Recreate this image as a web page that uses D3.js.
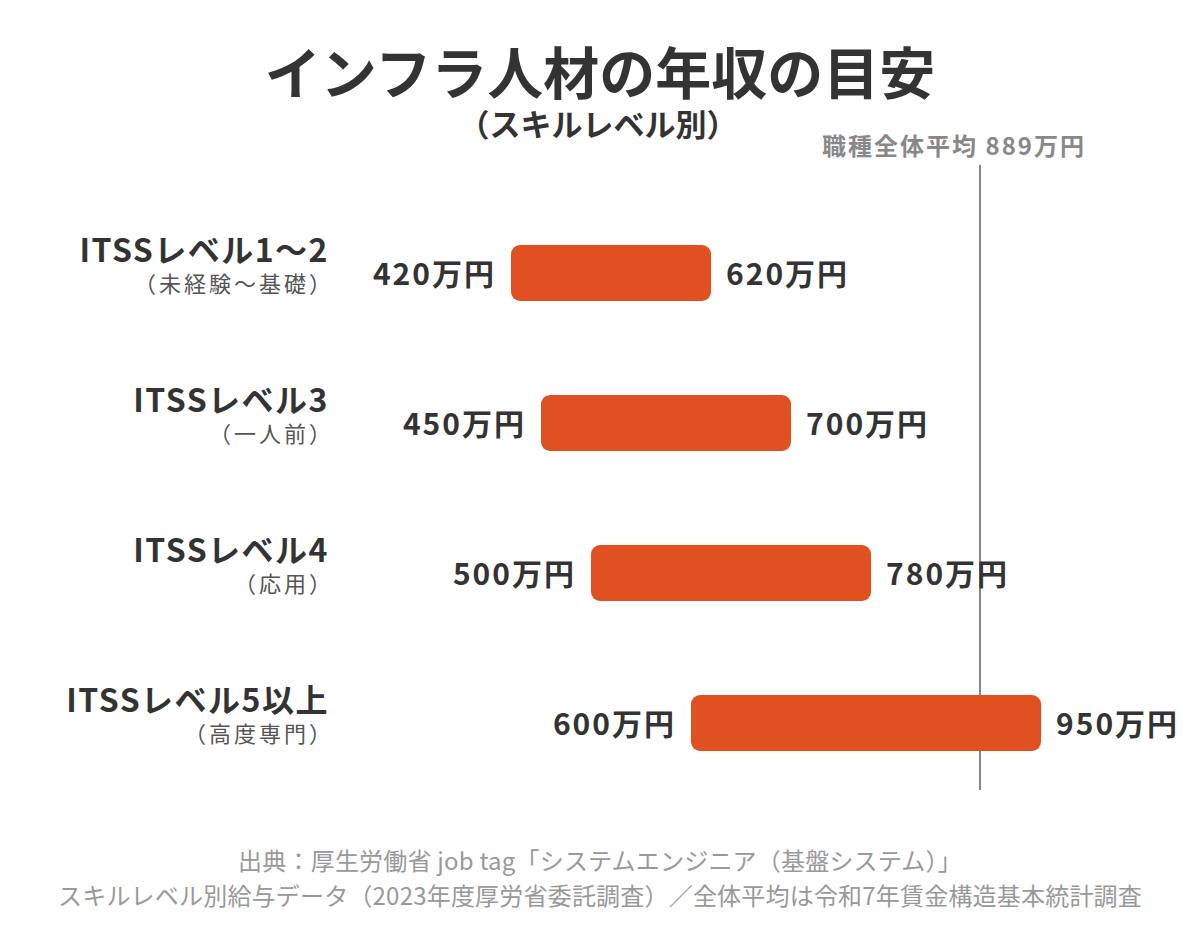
<!DOCTYPE html>
<meta charset="utf-8">
<title>インフラ人材の年収の目安</title>
<script src="https://d3js.org/d3.v7.min.js"></script>
<style>
  body { margin: 0; background: #fff; }
  text { font-family: "Noto Sans CJK JP", "Noto Sans", sans-serif; }
  text.title { font-size: 56px; font-weight: bold; fill: #333; text-anchor: middle; }
  text.subtitle { font-size: 31px; font-weight: bold; fill: #333; text-anchor: middle; }
  text.cat { font-size: 32px; font-weight: bold; fill: #333; text-anchor: end; letter-spacing: 1.5px; }
  text.sub { font-size: 22px; fill: #555; text-anchor: end; letter-spacing: 3px; }
  text.val { font-size: 30px; font-weight: bold; fill: #333; letter-spacing: 2px; }
  text.avg { font-size: 24px; font-weight: bold; fill: #888; text-anchor: middle; letter-spacing: 2px; }
  text.source { font-size: 24px; fill: #999; text-anchor: middle; letter-spacing: 0.2px; }
</style>
<div id="chart"></div>
<script>
// data
var levels = ["ITSSレベル1〜2", "ITSSレベル3", "ITSSレベル4", "ITSSレベル5以上"];
var levelNotes = ["（未経験〜基礎）", "（一人前）", "（応用）", "（高度専門）"];
var low = [420, 450, 500, 600];
var high = [620, 700, 780, 950];
var average = 889;
var unit = "万円";

var width = 1200, height = 940;

var svg = d3.select("#chart").append("svg")
    .attr("width", width)
    .attr("height", height);

var x = d3.scaleLinear().domain([400, 1000]).range([491, 1091]);
var y = d3.scalePoint().domain(levels).range([273, 723]);
var barH = 56;

var rows = levels.map(function(d, i) {
  return { level: d, note: levelNotes[i], lo: low[i], hi: high[i] };
});

// titles
svg.append("text").attr("class", "title")
    .attr("x", 600).attr("y", 94)
    .text("インフラ人材の年収の目安");
svg.append("text").attr("class", "subtitle")
    .attr("x", 598).attr("y", 136)
    .text("（スキルレベル別）");

// average line (behind bars)
svg.append("line")
    .attr("x1", x(average)).attr("x2", x(average))
    .attr("y1", 165).attr("y2", 790)
    .attr("stroke", "#888").attr("stroke-width", 2);
svg.append("text").attr("class", "avg")
    .attr("x", x(average) - 26).attr("y", 155)
    .text("職種全体平均 " + average + unit);

// bars
svg.selectAll("rect.bar")
  .data(rows)
  .enter().append("rect")
    .attr("class", "bar")
    .attr("x", function(d) { return x(d.lo); })
    .attr("y", function(d) { return y(d.level) - barH / 2; })
    .attr("width", function(d) { return x(d.hi) - x(d.lo); })
    .attr("height", barH)
    .attr("rx", 9)
    .attr("fill", "#E05020");

// value labels
svg.selectAll("text.lo")
  .data(rows)
  .enter().append("text")
    .attr("class", "val lo")
    .attr("x", function(d) { return x(d.lo) - 15; })
    .attr("y", function(d) { return y(d.level) + 12; })
    .attr("text-anchor", "end")
    .text(function(d) { return d.lo + unit; });
svg.selectAll("text.hi")
  .data(rows)
  .enter().append("text")
    .attr("class", "val hi")
    .attr("x", function(d) { return x(d.hi) + 15; })
    .attr("y", function(d) { return y(d.level) + 12; })
    .attr("text-anchor", "start")
    .text(function(d) { return d.hi + unit; });

// category labels
svg.selectAll("text.cat")
  .data(rows)
  .enter().append("text")
    .attr("class", "cat")
    .attr("x", 329)
    .attr("y", function(d) { return y(d.level) - 11; })
    .text(function(d) { return d.level; });
svg.selectAll("text.sub")
  .data(rows)
  .enter().append("text")
    .attr("class", "sub")
    .attr("x", 334)
    .attr("y", function(d) { return y(d.level) + 19; })
    .text(function(d) { return d.note; });

// source
svg.append("text").attr("class", "source")
    .attr("x", 600).attr("y", 870)
    .text("出典：厚生労働省 job tag「システムエンジニア（基盤システム）」");
svg.append("text").attr("class", "source")
    .attr("x", 600).attr("y", 905)
    .text("スキルレベル別給与データ（2023年度厚労省委託調査）／全体平均は令和7年賃金構造基本統計調査");
</script>
